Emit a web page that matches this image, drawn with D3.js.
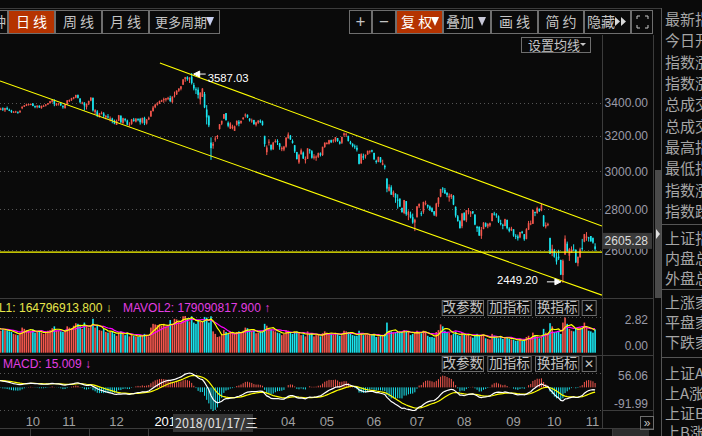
<!DOCTYPE html>
<html>
<head>
<meta charset="utf-8">
<script src="https://cdn.jsdelivr.net/npm/d3@7"></script>
<style>
  body { margin: 0; background: #0a0a0a; overflow: hidden; }
  svg { display: block; }
  text { font-family: "Liberation Sans", Arial, sans-serif; }
  .cn { font-family: "Noto Sans CJK SC", sans-serif; }
</style>
</head>
<body>
<div id="chart"></div>
<script>
// daily candles, 2017/09/14 .. 2018/11/09 (one line per month)
const opens = [
  3385,3366,3355,3364,3352,3366,3355,3350,3338,3343,3343,3339,
  3365,3374,3381,3386,3388,3393,3378,3372,3380,3365,3380,3381,3388,3396,3405,3413,3383,
  3390,3395,3378,3365,3388,3408,3414,3425,3431,3446,3425,3398,3399,3372,3389,3412,3428,3341,3345,3312,3333,3333,
  3310,3315,3303,3302,3289,3264,3290,3320,3276,3299,3290,3266,3270,3296,3284,3299,3299,3278,3306,3272,3297,
  3314,3347,3371,3386,3392,3406,3415,3418,3424,3428,3403,3441,3450,3474,3486,3512,3548,3560,3545,3563,3510,3483,
  3480,3419,3435,3453,3357,3316,3161,3143,3182,3196,3240,3271,3302,3335,3277,
  3243,3246,3229,3265,3283,3277,3299,3322,3325,3302,3290,3294,3265,3277,3289,3285,3200,3106,3163,3148,3123,3166,
  3170,3156,3123,3121,3138,3186,3201,3170,3146,3107,3049,3095,3104,3062,3069,3121,3112,3075,
  3078,3080,3099,3090,3136,3157,3154,3175,3172,3172,3187,3165,3160,3206,3210,3200,3164,3154,3140,3131,3096,3044,
  3084,3083,3093,3113,3117,3102,3057,3052,3077,3036,3030,2960,2896,2914,2873,2880,2850,2855,2807,2781,
  2842,2771,2773,2760,2733,2761,2815,2780,2787,2831,2822,2814,2805,2790,2767,2827,2865,2908,2900,2884,2860,2863,
  2869,2812,2764,2739,2715,2782,2744,2787,2778,2790,2772,2712,2712,2668,2701,2730,2714,2719,2740,2778,2774,2765,2731,
  2722,2716,2746,2703,2695,2700,2668,2665,2660,2688,2676,2653,2698,2728,2727,2787,2781,2803,2794,
  2768,2713,2723,2657,2587,2598,2566,2569,2553,2484,2578,2630,2573,2586,2602,2601,2538,2565,
  2610,2640,2658,2660,2667,2657,2617
];
const highs = [
  3389,3371,3368,3370,3367,3375,3362,3355,3347,3349,3344,3352,
  3376,3384,3393,3392,3394,3397,3381,3382,3383,3381,3386,3390,3397,3410,3418,3420,3396,
  3397,3399,3383,3390,3415,3419,3429,3435,3448,3450,3426,3405,3402,3394,3411,3433,3432,3359,3353,3336,3345,3341,
  3324,3329,3315,3307,3296,3296,3324,3320,3307,3305,3296,3280,3300,3306,3305,3304,3306,3308,3313,3299,3314,
  3349,3379,3392,3402,3412,3417,3430,3427,3435,3442,3437,3468,3476,3488,3503,3547,3562,3566,3559,3587.03,3524,3495,
  3495,3463,3490,3466,3384,3323,3191,3164,3198,3205,3269,3289,3329,3335,3285,
  3280,3265,3260,3290,3293,3290,3311,3333,3327,3304,3302,3294,3283,3292,3297,3290,3200,3145,3180,3150,3165,3180,
  3180,3159,3139,3142,3190,3220,3205,3179,3146,3108,3097,3127,3110,3082,3128,3125,3118,3095,
  3088,3104,3105,3137,3161,3163,3177,3178,3181,3192,3187,3172,3194,3219,3214,3200,3171,3157,3150,3145,3097,3100,
  3098,3093,3115,3115,3120,3103,3064,3081,3079,3064,3037,2963,2930,2925,2897,2883,2877,2855,2808,2848,
  2842,2794,2788,2778,2752,2815,2830,2790,2839,2844,2824,2819,2810,2790,2833,2862,2906,2915,2910,2889,2882,2879,
  2873,2815,2771,2745,2779,2784,2795,2806,2791,2790,2776,2717,2714,2711,2735,2734,2730,2733,2780,2787,2780,2769,2747,
  2727,2752,2748,2710,2712,2700,2676,2674,2687,2692,2676,2705,2741,2743,2797,2787,2813,2803,2827,
  2771,2734,2732,2659,2625,2605,2586,2601,2555,2556,2670,2640,2610,2617,2627,2603,2569,2611,
  2653,2677,2686,2663,2667,2660,2632
];
const lows = [
  3366,3348,3353,3348,3342,3355,3347,3336,3336,3337,3331,3338,
  3359,3372,3378,3381,3383,3377,3365,3364,3366,3362,3373,3376,3385,3393,3399,3377,3380,
  3381,3378,3362,3363,3387,3403,3410,3420,3427,3425,3395,3389,3350,3357,3384,3408,3344,3327,3311,3308,3327,3305,
  3298,3302,3285,3274,3268,3264,3287,3275,3270,3284,3262,3255,3265,3283,3279,3286,3266,3272,3263,3266,3293,
  3314,3345,3365,3381,3392,3403,3398,3406,3415,3402,3396,3431,3447,3466,3476,3510,3530,3537,3523,3513,3476,3453,
  3425,3388,3434,3365,3267,3251,3063,3126,3166,3181,3236,3263,3300,3291,3250,
  3240,3238,3229,3260,3256,3270,3295,3308,3305,3284,3277,3265,3255,3270,3275,3260,3137,3090,3144,3116,3119,3161,
  3147,3120,3112,3112,3132,3184,3176,3155,3102,3066,3041,3092,3068,3043,3068,3098,3070,3065,
  3058,3074,3082,3085,3131,3150,3150,3158,3160,3163,3165,3150,3153,3196,3193,3168,3150,3134,3125,3110,3038,3041,
  3063,3070,3092,3098,3105,3062,3042,3050,3048,3033,3010,2888,2892,2875,2862,2833,2803,2813,2782,2775,
  2767,2745,2754,2727,2691,2757,2806,2765,2777,2820,2804,2791,2785,2766,2762,2812,2862,2885,2879,2862,2839,2853,
  2821,2758,2738,2704,2705,2744,2735,2774,2761,2775,2720,2687,2668,2653,2700,2710,2705,2712,2740,2768,2757,2731,2719,
  2700,2715,2699,2685,2691,2663,2652,2645,2656,2678,2644,2651,2696,2720,2726,2765,2777,2786,2790,
  2712,2704,2715,2581,2571,2564,2532,2553,2484,2449.20,2578,2591,2549,2586,2597,2539,2524,2565,
  2596,2637,2644,2640,2640,2630,2596
];
const closes = [
  3371,3353,3362,3356,3366,3357,3352,3342,3343,3345,3339,3349,
  3374,3382,3388,3390,3391,3379,3372,3381,3370,3379,3380,3388,3396,3408,3416,3390,3393,
  3396,3383,3371,3388,3413,3415,3427,3432,3447,3429,3402,3399,3382,3392,3410,3430,3351,3353,3322,3333,3337,3317,
  3318,3310,3303,3293,3272,3289,3322,3280,3304,3292,3266,3267,3297,3288,3301,3297,3280,3306,3275,3296,3307,
  3349,3369,3386,3392,3409,3414,3421,3426,3429,3410,3437,3444,3474,3488,3501,3546,3560,3548,3558,3523,3488,3481,
  3447,3462,3487,3370,3309,3262,3129,3154,3184,3199,3268,3289,3329,3292,3259,
  3273,3254,3256,3289,3271,3288,3307,3326,3310,3291,3291,3269,3279,3290,3281,3263,3153,3133,3166,3122,3161,3169,
  3163,3137,3131,3138,3190,3208,3180,3159,3111,3067,3091,3117,3071,3069,3128,3117,3075,3082,
  3081,3101,3091,3137,3161,3159,3175,3163,3174,3192,3170,3155,3194,3214,3213,3169,3154,3141,3135,3120,3041,3095,
  3075,3092,3114,3115,3110,3067,3053,3080,3050,3044,3022,2907,2916,2875,2890,2859,2844,2813,2786,2847,
  2775,2786,2759,2733,2747,2815,2827,2777,2837,2831,2814,2798,2787,2773,2829,2859,2905,2903,2882,2873,2869,2876,
  2824,2768,2740,2705,2779,2744,2795,2795,2785,2780,2723,2705,2669,2698,2733,2714,2725,2730,2780,2777,2769,2737,2725,
  2720,2750,2705,2692,2703,2669,2665,2656,2686,2682,2651,2700,2730,2729,2797,2781,2806,2792,2821,
  2716,2721,2725,2583,2606,2568,2546,2561,2486,2550,2654,2594,2604,2603,2598,2542,2568,2603,
  2606,2676,2665,2659,2641,2635,2605.28
];
// volume, millions
const volumes = [
  205,190,175,185,180,178,170,165,150,145,140,148,
  200,190,180,175,170,185,160,165,170,160,150,160,175,180,195,210,175,
  175,170,165,170,210,200,195,215,235,230,210,190,240,215,200,210,270,200,220,180,175,190,
  165,160,170,165,150,135,160,170,150,140,160,130,140,135,130,125,140,135,150,140,130,
  200,230,225,220,225,215,230,210,205,260,220,270,265,245,240,290,300,275,250,290,240,230,
  260,250,245,285,280,240,290,170,150,125,130,140,180,165,150,
  160,155,150,165,170,160,175,200,195,180,170,175,155,160,170,165,230,215,190,185,175,170,
  160,155,140,150,180,175,160,150,165,170,160,140,145,130,170,150,155,130,
  140,145,130,155,170,160,150,150,145,160,150,135,140,175,170,165,150,140,135,135,175,155,
  140,145,140,145,140,150,125,130,135,140,150,240,175,170,160,165,165,160,165,180,
  165,175,140,150,160,175,165,155,175,165,135,125,125,120,165,180,225,210,175,165,160,140,
  150,165,140,135,155,145,140,150,130,120,140,150,140,140,140,115,110,105,150,135,120,115,125,
  110,125,120,110,105,105,95,95,110,95,100,125,135,120,160,140,130,115,130,
  190,160,155,235,210,165,165,175,150,240,280,230,190,175,170,195,200,200,
  200,240,200,175,170,160,185
];

// first trading day of each month (candle index) and its label; 02 and 03 sit under the date readout
const monthStart = [12, 29, 51, 72, 131, 149, 171, 191, 213, 236, 255, 273];
const monthName  = ["10", "11", "12", "2018", "04", "05", "06", "07", "08", "09", "10", "11"];

const priceTicks = [3400, 3200, 3000, 2800, 2600];
const volTicks = [282, 0];
const macdTicks = [56.06, -91.99];

// drawn lines: [candle index, price] end points
const channelUpper = [[76.2, 3653], [282.2, 2716]];
const channelLower = [[1.7, 3536], [282.2, 2395]];
const hLinePrice = 2590;

// EMA state on the day before the first candle
const ema12Seed = 3350, ema26Seed = 3320, deaSeed = 26;

const cursorDate = "2018/01/17/三";
const cursorPrice = 2605.28;
const mavolLabels = ["MAVOL1: 164796913.800", "MAVOL2: 179090817.900"];
const macdLabel = "MACD: 15.009";

const infoRows = ["最新指数", "今日开盘", "指数涨跌", "指数涨幅", "总成交量", "总成交额", "最高指数", "最低指数",
  "指数涨速", "指数跌速", "上证指数", "内盘总量", "外盘总量", "上涨家数", "平盘家数", "下跌家数",
  "上证A股", "上A涨幅", "上证B股", "上B涨幅"];

const RED = "#f4574d", CYAN = "#1ae6f0", GRID = "#555", LINE = "#3c3c3c", TXT = "#a6a6a6";

const svg = d3.select("#chart").append("svg").attr("width", 702).attr("height", 436);
svg.append("rect").attr("width", 702).attr("height", 436).attr("fill", "#0a0a0a");

const x = d3.scaleLinear().domain([0, closes.length - 1]).range([-3.6, 595.1]);
const y = d3.scaleLog().domain([2600, 3400]).range([250, 102.5]);
const yv = d3.scaleLinear().domain([0, 282]).range([352.7, 317.3]);
const ym = d3.scaleLinear().domain([-91.99, 56.06]).range([411, 373]);

const idx = d3.range(closes.length);
const up = i => closes[i] >= opens[i];
const col = i => up(i) ? RED : CYAN;

const defs = svg.append("defs");
defs.append("clipPath").attr("id", "cp").append("rect").attr("x", 0).attr("y", 35).attr("width", 602).attr("height", 263);
defs.append("clipPath").attr("id", "cv").append("rect").attr("x", 0).attr("y", 316).attr("width", 602).attr("height", 38);
defs.append("clipPath").attr("id", "cm").append("rect").attr("x", 0).attr("y", 372).attr("width", 602).attr("height", 39);

/* frame lines */
const frame = svg.append("g").attr("stroke", LINE).attr("shape-rendering", "crispEdges");
frame.append("line").attr("x1", 0).attr("x2", 661).attr("y1", 8.5).attr("y2", 8.5);
frame.append("line").attr("x1", 602.5).attr("x2", 602.5).attr("y1", 35).attr("y2", 429);
frame.append("line").attr("x1", 653.5).attr("x2", 653.5).attr("y1", 35).attr("y2", 429);
frame.append("line").attr("x1", 661.5).attr("x2", 661.5).attr("y1", 8).attr("y2", 436).attr("stroke", "#555");
[298.5, 355.5, 428.5].forEach(v => frame.append("line").attr("x1", 0).attr("x2", 654).attr("y1", v).attr("y2", v));
frame.append("line").attr("x1", 602).attr("x2", 654).attr("y1", 410.5).attr("y2", 410.5);
// tab strip under the date axis
[30.5, 89.5, 148.5, 612.5].forEach(v => frame.append("line").attr("x1", v).attr("x2", v).attr("y1", 429).attr("y2", 436));
svg.append("rect").attr("x", 613).attr("y", 429).attr("width", 36).attr("height", 7).attr("fill", "#2e2e2e");

/* toolbar */
const tb = svg.append("g");
function box(x0, w, sel, y0, h) {
  tb.append("rect").attr("x", x0 + 0.5).attr("y", y0 + 0.5).attr("width", w - 1).attr("height", h)
    .attr("fill", sel ? "#b53300" : "#0a0a0a").attr("stroke", "#6e6e6e");
}
function label(tx, ty, s, size, sel, anchor) {
  tb.append("text").attr("class", "cn").attr("x", tx).attr("y", ty)
    .attr("text-anchor", anchor || "middle").attr("font-size", size)
    .attr("fill", sel ? "#ffffff" : "#c4c4c4").text(s);
}
function button(x0, w, s, sel, y0, h, size) {
  box(x0, w, sel, y0, h);
  label(x0 + w / 2, y0 + h / 2 + size * 0.36, s, size, sel);
}
box(-40, 48, false, 10, 23); label(6, 27, "分钟", 14, false, "end");
button(8, 47, "日 线", true, 10, 23, 14);
button(55, 47, "周 线", false, 10, 23, 14);
button(102, 47, "月 线", false, 10, 23, 14);
box(149, 71, false, 10, 23); label(155, 27, "更多周期", 13, false, "start");
button(349, 23, "+", false, 10, 23, 17);
button(372, 24, "−", false, 10, 23, 17);
box(396, 47, true, 10, 23); label(401, 27, "复 权", 14, true, "start");
box(443, 48, false, 10, 23); label(446, 27, "叠加", 14, false, "start");
button(491, 47, "画 线", false, 10, 23, 14);
button(538, 46, "简 约", false, 10, 23, 14);
box(584, 47, false, 10, 23); label(587, 27, "隐藏", 14, false, "start");
box(631, 22, false, 10, 23);
const tri = (x0, fill) => tb.append("path").attr("d", `M${x0},17L${x0 + 8},17L${x0 + 4},26Z`).attr("fill", fill);
tri(206, "#c8d0f0"); tri(431, "#ffffff"); tri(478, "#c8c8d8");
[615, 621].forEach(v => tb.append("path").attr("d", `M${v},17L${v + 5},21.5L${v},26Z`).attr("fill", "#d8d8d8"));
tb.append("path").attr("d", "M637,19v-3h3M645,16h3v3M648,25v3h-3M640,28h-3v-3")
  .attr("fill", "none").attr("stroke", "#c8c8c8");

// 设置均线
tb.append("rect").attr("x", 521.5).attr("y", 37.5).attr("width", 69).attr("height", 15).attr("fill", "none").attr("stroke", "#6e6e6e");
label(528, 50, "设置均线", 13, false, "start");
tb.append("path").attr("d", "M580,43L586,43L583,46Z").attr("fill", "#c4c4c4");

/* price panel */
const gp = svg.append("g").attr("clip-path", "url(#cp)");
gp.selectAll("line.grid").data(priceTicks).join("line")
  .attr("x1", 0).attr("x2", 602).attr("y1", d => Math.round(y(d)) + 0.5).attr("y2", d => Math.round(y(d)) + 0.5)
  .attr("stroke", GRID).attr("stroke-dasharray", "1,3");

gp.selectAll("line.wick").data(idx).join("line")
  .attr("x1", i => x(i)).attr("x2", i => x(i))
  .attr("y1", i => y(highs[i])).attr("y2", i => y(lows[i]))
  .attr("stroke", col).attr("stroke-width", 1);
gp.selectAll("rect.body").data(idx).join("rect")
  .attr("x", i => x(i) - 0.8).attr("width", 1.6)
  .attr("y", i => y(Math.max(opens[i], closes[i])))
  .attr("height", i => Math.max(1, Math.abs(y(opens[i]) - y(closes[i]))))
  .attr("fill", col);

// channel + horizontal line
[channelUpper, channelLower].forEach(seg => {
  gp.append("line")
    .attr("x1", x(seg[0][0])).attr("y1", y(seg[0][1]))
    .attr("x2", x(seg[1][0])).attr("y2", y(seg[1][1]))
    .attr("stroke", "#ffff00").attr("stroke-width", 1.1);
});
gp.append("line").attr("x1", 0).attr("x2", 602)
  .attr("y1", y(hLinePrice)).attr("y2", y(hLinePrice)).attr("stroke", "#ffff00").attr("stroke-width", 1.2);

// high / low markers
const hi = d3.maxIndex(highs), lo = d3.minIndex(lows);
const hx = x(hi), hy = y(highs[hi]);
gp.append("path").attr("d", `M${hx + 2},${hy + 1}l6,-3v6z M${hx + 7},${hy + 1}h7`).attr("fill", "#fff").attr("stroke", "#fff").attr("stroke-width", 1);
gp.append("text").attr("x", hx + 16).attr("y", hy + 9).attr("font-family", "DejaVu Sans Mono")
  .attr("font-size", 11).attr("textLength", 41).attr("lengthAdjust", "spacingAndGlyphs").attr("fill", "#fff")
  .text(highs[hi].toFixed(2));
const lx = x(lo), ly = y(lows[lo]);
gp.append("path").attr("d", `M${lx - 2},${ly - 1}l-6,-3v6z M${lx - 7},${ly - 1}h-9`).attr("fill", "#fff").attr("stroke", "#fff").attr("stroke-width", 1);
gp.append("text").attr("x", lx - 25).attr("y", ly + 1).attr("text-anchor", "end").attr("font-family", "DejaVu Sans Mono")
  .attr("font-size", 11).attr("textLength", 41).attr("lengthAdjust", "spacingAndGlyphs").attr("fill", "#fff")
  .text(lows[lo].toFixed(2));

// price axis labels
svg.selectAll("text.py").data(priceTicks).join("text")
  .attr("x", 648).attr("y", d => y(d) + 4.5).attr("text-anchor", "end")
  .attr("font-size", 12).attr("fill", "#9a9aa8").text(d => d.toFixed(2));
svg.append("rect").attr("x", 603).attr("y", y(cursorPrice) - 16).attr("width", 49).attr("height", 16).attr("fill", "#3a3a3a");
svg.append("text").attr("x", 648).attr("y", y(cursorPrice) - 3.5).attr("text-anchor", "end")
  .attr("font-size", 12).attr("fill", "#dcdcdc").text(cursorPrice.toFixed(2));

/* volume panel */
const gv = svg.append("g").attr("clip-path", "url(#cv)");
gv.append("line").attr("x1", 0).attr("x2", 602).attr("y1", 317.5).attr("y2", 317.5).attr("stroke", GRID).attr("stroke-dasharray", "1,3");
gv.selectAll("rect.vol").data(idx).join("rect")
  .attr("x", i => x(i) - 0.8).attr("width", 1.6)
  .attr("y", i => yv(volumes[i])).attr("height", i => yv(0) - yv(volumes[i]))
  .attr("fill", col);
const ma = n => volumes.map((v, i) => d3.mean(volumes.slice(Math.max(0, i - n + 1), i + 1)));
const vline = d3.line().x((d, i) => x(i)).y(d => yv(d));
gv.append("path").datum(ma(10)).attr("d", vline).attr("fill", "none").attr("stroke", "#ff00ff").attr("stroke-width", 1.2);
gv.append("path").datum(ma(5)).attr("d", vline).attr("fill", "none").attr("stroke", "#ffff00").attr("stroke-width", 1.2);

svg.append("text").attr("x", -35.5).attr("y", 311.5).attr("font-size", 12).attr("fill", "#e6e64a").text(mavolLabels[0] + " ↓");
svg.append("text").attr("x", 123).attr("y", 311.5).attr("font-size", 12).attr("fill", "#e23ee2").text(mavolLabels[1] + " ↑");
svg.selectAll("text.vy").data(volTicks).join("text")
  .attr("x", 648).attr("y", d => d === 0 ? yv(d) - 2.5 : yv(d) + 6.5).attr("text-anchor", "end")
  .attr("font-size", 12).attr("fill", "#9a9aa8").text(d => (d / 100).toFixed(2));

/* MACD panel */
let e12 = ema12Seed, e26 = ema26Seed, dea = deaSeed;
const dif = [], deaL = [], hist = [];
closes.forEach(c => {
  e12 = e12 * 11 / 13 + c * 2 / 13;
  e26 = e26 * 25 / 27 + c * 2 / 27;
  const d = e12 - e26;
  dea = dea * 0.8 + d * 0.2;
  dif.push(d); deaL.push(dea); hist.push(2 * (d - dea));
});
const gm = svg.append("g").attr("clip-path", "url(#cm)");
[373.5, 410.5].forEach(v => gm.append("line").attr("x1", 0).attr("x2", 602).attr("y1", v).attr("y2", v)
  .attr("stroke", GRID).attr("stroke-dasharray", "1,3"));
gm.selectAll("line.h").data(idx).join("line")
  .attr("x1", i => x(i)).attr("x2", i => x(i))
  .attr("y1", ym(0)).attr("y2", i => ym(hist[i]))
  .attr("stroke", i => hist[i] >= 0 ? RED : CYAN).attr("stroke-width", 1);
const mline = d3.line().x((d, i) => x(i)).y(d => ym(d));
gm.append("path").datum(deaL).attr("d", mline).attr("fill", "none").attr("stroke", "#ffff00").attr("stroke-width", 1.2);
gm.append("path").datum(dif).attr("d", mline).attr("fill", "none").attr("stroke", "#ffffff").attr("stroke-width", 1.2);

svg.append("text").attr("x", 3).attr("y", 368).attr("font-size", 12).attr("fill", "#e23ee2").text(macdLabel + " ↓");
svg.selectAll("text.my").data(macdTicks).join("text")
  .attr("x", 648).attr("y", d => d > 0 ? ym(d) + 6.5 : ym(d) - 3.5).attr("text-anchor", "end")
  .attr("font-size", 12).attr("fill", "#9a9aa8").text(d => d.toFixed(2));

// indicator buttons
[300, 356].forEach(y0 => {
  button(441.7, 42.3, "改参数", false, y0, 15, 13.5);
  button(487.3, 44.4, "加指标", false, y0, 15, 13.5);
  button(535, 44.3, "换指标", false, y0, 15, 13.5);
  button(581.7, 15, "✕", false, y0, 15, 12);
});

/* date axis */
svg.selectAll("text.mx").data(monthStart).join("text")
  .attr("x", i => x(i) + 3.5).attr("y", 426)
  .attr("font-size", 13).attr("fill", (d, k) => monthName[k] === "2018" ? "#ffffff" : "#a0a0a0")
  .text((d, k) => monthName[k]);
svg.append("rect").attr("x", 173).attr("y", 414).attr("width", 80).attr("height", 18).attr("fill", "#353535");
svg.append("text").attr("class", "cn").attr("x", 175).attr("y", 427.5).attr("font-size", 12.5).attr("fill", "#e0e0e0").text(cursorDate);
svg.append("rect").attr("x", 640.5).attr("y", 416.5).attr("width", 13).attr("height", 13).attr("fill", "none").attr("stroke", "#6e6e6e");
svg.append("text").attr("x", 647).attr("y", 427).attr("text-anchor", "middle").attr("font-size", 12).attr("fill", "#c0c0c0").text("»");

/* right panel */
svg.append("rect").attr("x", 655).attr("y", 170).attr("width", 6).attr("height", 128).attr("fill", "#4a4a4a");
svg.append("path").attr("d", "M656,229L660,234L656,239Z").attr("fill", "#e0e0e0");
const rowY = [19, 40, 62, 83, 104, 126, 147, 168, 190, 211, 238, 258, 278, 302, 322, 342, 373, 393, 413, 432];
svg.selectAll("text.info").data(infoRows).join("text")
  .attr("class", "cn").attr("x", 665).attr("y", (d, k) => rowY[k] + 5.5)
  .attr("font-size", 15).attr("fill", TXT).text(d => d);
[224.5, 289.5, 357.5].forEach(v => svg.append("line").attr("x1", 662).attr("x2", 702).attr("y1", v).attr("y2", v).attr("stroke", "#555"));
</script>
</body>
</html>
